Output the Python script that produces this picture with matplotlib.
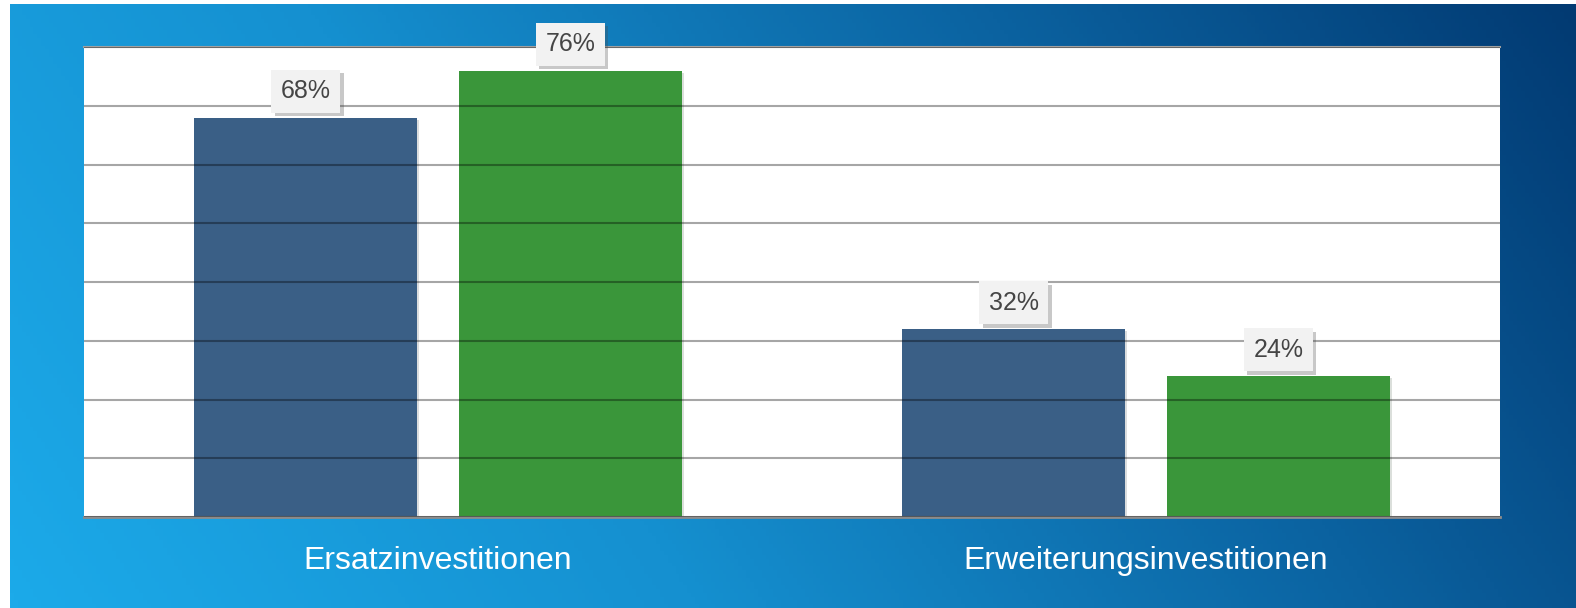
import matplotlib

matplotlib.use("Agg")

import matplotlib.pyplot as plt
import matplotlib.patheffects as pe
import numpy as np
from matplotlib.colors import LinearSegmentedColormap

categories = ["Ersatzinvestitionen", "Erweiterungsinvestitionen"]
series_a = [68, 32]
series_b = [76, 24]
value_labels_a = ["68%", "32%"]
value_labels_b = ["76%", "24%"]

plt.rcParams["font.family"] = ["Liberation Sans", "DejaVu Sans"]

W, H = 1576, 608
fig = plt.figure(figsize=(W / 100, H / 100), dpi=100)
fig.patch.set_facecolor("white")

# gradient backdrop, leaving a thin white strip at left and top
bg = fig.add_axes([10 / W, 0, 1 - 10 / W, 1 - 4 / H], zorder=0)
gx, gy = np.meshgrid(np.linspace(0, 1, 400), np.linspace(0, 1, 160))
u = 0.8 * gx + 0.2 * gy
cmap = LinearSegmentedColormap.from_list(
    "bg", [(0.0, "#1caae9"), (0.35, "#1590d0"), (0.7, "#0b62a0"), (1.0, "#023a72")]
)
bg.imshow(u, cmap=cmap, origin="lower", aspect="auto", extent=(0, 1, 0, 1))
bg.set_axis_off()

ax = fig.add_axes([84 / W, (H - 517) / H, 1416 / W, 470 / H], zorder=1)
ax.set_facecolor("white")

x = np.arange(len(categories))
width = 0.315
offset = 0.187
shadow = [pe.SimplePatchShadow(offset=(1.5, -1.5), alpha=0.15), pe.Normal()]

bars_a = ax.bar(x - offset, series_a, width, color="#3a5f86", zorder=2)
bars_b = ax.bar(x + offset, series_b, width, color="#3a963a", zorder=2)
for b in list(bars_a) + list(bars_b):
    b.set_path_effects(shadow)

ax.set_ylim(0, 80)
ax.set_xlim(-0.5, 1.5)
ax.set_yticks(np.arange(0, 81, 10))
ax.yaxis.grid(True, color="black", alpha=0.35, linewidth=1.5)
ax.set_axisbelow(False)
ax.tick_params(axis="y", left=False, labelleft=False)
ax.tick_params(axis="x", length=0, pad=21, labelsize=23, labelcolor="white")
ax.set_xticks(x)
ax.set_xticklabels(categories)

for side in ["left", "right"]:
    ax.spines[side].set_visible(False)
ax.spines["top"].set_color("#a0a0a0")
ax.spines["top"].set_linewidth(1.5)
ax.spines["bottom"].set_color("#8c8c8c")
ax.spines["bottom"].set_linewidth(2)

for bars, labels in [(bars_a, value_labels_a), (bars_b, value_labels_b)]:
    for b, lab in zip(bars, labels):
        t = ax.annotate(
            lab,
            (b.get_x() + b.get_width() / 2, b.get_height()),
            xytext=(0, 19),
            textcoords="offset points",
            ha="center",
            va="center",
            fontsize=18,
            color="#454545",
            zorder=5,
            annotation_clip=False,
            bbox=dict(boxstyle="square,pad=0.38", facecolor="#f2f2f2", edgecolor="none"),
        )
        t.get_bbox_patch().set_path_effects(
            [pe.SimplePatchShadow(offset=(2.5, -2.5), alpha=0.3), pe.Normal()]
        )

fig.savefig("out.png", dpi=100)
